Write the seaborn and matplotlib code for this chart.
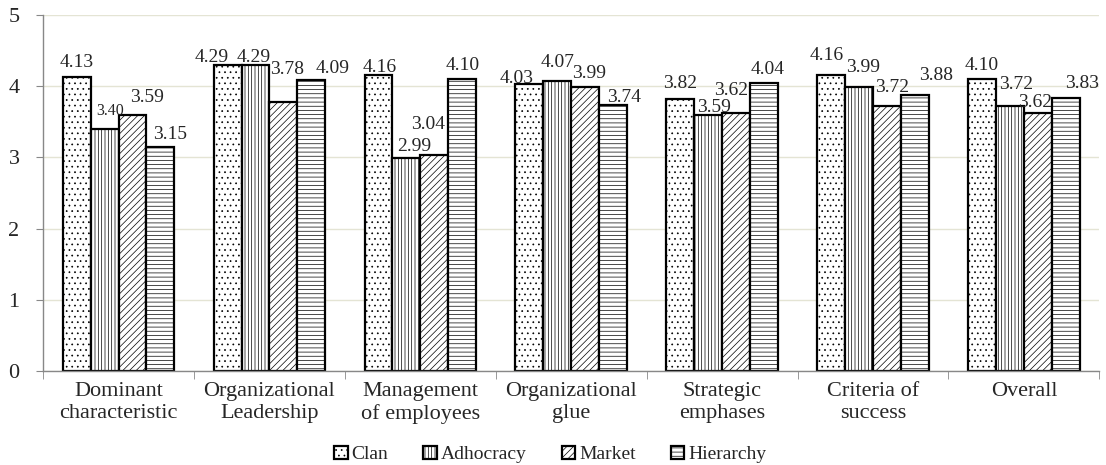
import pandas as pd
import numpy as np
import matplotlib
matplotlib.use("Agg")
import matplotlib.pyplot as plt
import seaborn as sns

categories = ["Dominant\ncharacteristic", "Organizational\nLeadership", "Management\nof employees",
              "Organizational\nglue", "Strategic\nemphases", "Criteria of\nsuccess", "Overall"]
types = ["Clan", "Adhocracy", "Market", "Hierarchy"]
clan = [4.13, 4.29, 4.16, 4.03, 3.82, 4.16, 4.10]
adhocracy = [3.40, 4.29, 2.99, 4.07, 3.59, 3.99, 3.72]
market = [3.59, 3.78, 3.04, 3.99, 3.62, 3.72, 3.62]
hierarchy = [3.15, 4.09, 4.10, 3.74, 4.04, 3.88, 3.83]

# label nudges in pixels (dx, gap above bar), per type then per category
label_nudge = {
    "Clan": [(0, 10), (-16, 3), (1, 3), (-13, 1), (0, 11), (-4, 15), (0, 9)],
    "Adhocracy": [(6, 14), (-2, 3), (8, 7), (0, 14), (6, 3), (4, 15), (6, 17)],
    "Market": [(14, 13), (4, 28), (-6, 26), (4, 9), (-5, 18), (5, 14), (-3, 6)],
    "Hierarchy": [(10, 8), (21, 7), (0, 9), (11, 3), (4, 9), (21, 15), (16, 10)],
}

rows = []
for name, vals in zip(types, [clan, adhocracy, market, hierarchy]):
    for c, v in zip(categories, vals):
        rows.append({"category": c, "type": name, "score": v})
df = pd.DataFrame(rows)

sns.set_style("white")
plt.rcParams['font.family'] = ['Liberation Serif', 'DejaVu Serif']
plt.rcParams['hatch.linewidth'] = 0.5

fig = plt.figure(figsize=(11.06, 4.65), dpi=100)
ax = fig.add_axes([0.039, 0.202, 0.955, 0.766])

sns.barplot(data=df, x="category", y="score", hue="type", order=categories, hue_order=types,
            color="white", palette=["white"] * 4, edgecolor="black", linewidth=1.6,
            width=0.74, gap=0, ax=ax, legend=False)

hatches = ["...", "|||||", "/////", "----"]
for cont, h, name in zip(ax.containers, hatches, types):
    for i, p in enumerate(cont):
        p.set_hatch(h)
        p.set_facecolor("white")
        p.set_edgecolor("black")
        dx, dy = label_nudge[name][i]
        size = 11.5 if (name == "Adhocracy" and i == 0) else 14
        ax.annotate(f"{p.get_height():.2f}", (p.get_x() + p.get_width() / 2, p.get_height()),
                    xytext=(dx, dy), textcoords="offset pixels", ha="center", va="baseline",
                    fontsize=size)

ax.set_ylim(0, 5)
ax.set_yticks(range(6))
ax.set_xlim(-0.5, len(categories) - 0.5)
ax.yaxis.grid(True, color="#e4e4d4", linewidth=1)
ax.set_axisbelow(True)
ax.set_xlabel("")
ax.set_ylabel("")
ax.tick_params(axis="x", length=0, labelsize=16, pad=8)
ax.tick_params(axis="y", length=5, labelsize=16, color="#888888", left=True, direction="out", pad=12)
ax.set_xticks(np.arange(-0.5, len(categories)), minor=True)
ax.tick_params(axis="x", which="minor", length=6, color="#888888", bottom=True, direction="out")
for s in ["top", "right"]:
    ax.spines[s].set_visible(False)
for s in ["left", "bottom"]:
    ax.spines[s].set_color("#888888")
    ax.spines[s].set_linewidth(1)

ax.legend(ax.containers, types, loc="upper center", bbox_to_anchor=(0.48, -0.16), ncol=4,
          frameon=False, fontsize=14, handlelength=0.7, handleheight=0.7,
          handletextpad=0.2, columnspacing=1.8)

fig.savefig("out.png", dpi=100)
